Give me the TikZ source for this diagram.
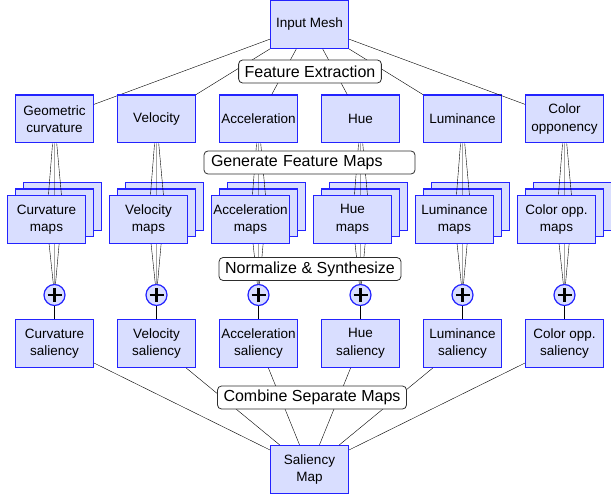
\documentclass[tikz,border=0pt]{standalone}
\usepackage{fontspec}
\setmainfont{Liberation Sans}
\definecolor{BoxBlue}{RGB}{35, 35, 255}
\definecolor{BoxFill}{RGB}{217, 222, 255}
\definecolor{StageGray}{RGB}{45, 45, 45}
\usepackage{tikz}

\tikzset{
  stepbox/.style={draw=BoxBlue, fill=BoxFill, line width=1.3pt, minimum width=77.7pt,
    minimum height=47.7pt, inner sep=1pt, align=center, font=\fontsize{13.5}{17.5}\selectfont},
  stage/.style={draw=StageGray, fill=white, rounded corners=4pt, line width=0.8pt,
    minimum height=23pt, inner xsep=6pt, inner ysep=2pt, font=\fontsize{16}{19}\selectfont},
  sumnode/.style={circle, draw=BoxBlue, fill=BoxFill, line width=1.2pt, minimum size=21pt,
    inner sep=0pt, path picture={\draw[black, line width=2.4pt] (path picture bounding box.center)
      ++(-7,0) -- ++(14,0) ++(-7,-7) -- ++(0,14);}},
}

\begin{document}
\begin{tikzpicture}[x=1pt, y=-1pt]
\useasboundingbox (0,0) rectangle (611,500);
\node[stepbox] (mesh) at (309.5, 24.5) {Input Mesh};
\node[stepbox] (salmap) at (309.5, 469.5) {Saliency\\Map};
\foreach \feat/\short [count=\i from 0] in {{Geometric\\curvature}/Curvature, Velocity/Velocity,
    Acceleration/Acceleration, Hue/Hue, Luminance/Luminance, {Color\\opponency}/{Color opp.}} {
  \pgfmathsetmacro{\cx}{54.5 + 102*\i}
  \node[stepbox] (feat\i) at (\cx, 119) {\feat};
  \node[stepbox] (back\i) at (\cx+8, 206.5) {};
  \node[stepbox] (mid\i) at (\cx, 213) {};
  \coordinate (fc\i) at (\cx-8, 219.5);
  \node[sumnode] (sum\i) at (\cx, 295) {};
  \node[stepbox] (sal\i) at (\cx, 343.5) {\short\\saliency};
  \draw (mesh) -- (feat\i);
  \draw (feat\i) -- (back\i.center) (feat\i) -- (mid\i.center) (feat\i) -- (fc\i);
  \draw (back\i.center) -- (sum\i) (mid\i.center) -- (sum\i) (fc\i) -- (sum\i);
  \node[stepbox] (front\i) at (fc\i) {\short\\maps};
  \draw[line width=1.4pt] (sum\i) -- (sal\i);
  \draw (sal\i) -- (salmap);
}
% stage labels sit on top of the connectors
\node[stage] (extract) at (310, 71.5) {Feature Extraction};
\node[stage, text width=197pt, align=left, inner xsep=7pt] (generate) at (309.5, 162.5) {Generate Feature Maps};
\node[stage] (normalize) at (310, 269) {Normalize \& Synthesize};
\node[stage] (combine) at (312, 397.5) {Combine Separate Maps};
\end{tikzpicture}
\end{document}
